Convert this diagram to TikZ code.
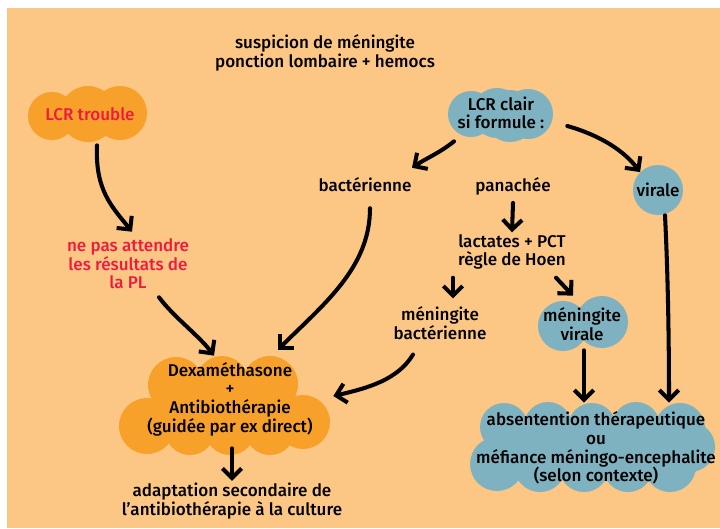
\documentclass[tikz,border=0pt]{standalone}
\usepackage{fontspec}
\setmainfont{Fira Sans}[UprightFont=* Medium]
\usetikzlibrary{arrows.meta, positioning}

\definecolor{peach}{HTML}{FCC684}
\definecolor{tangerine}{HTML}{F8A12A}
\definecolor{lcrblue}{HTML}{7FB2C0}
\definecolor{alertred}{HTML}{F01A40}

\begin{document}
\begin{tikzpicture}[
    x=0.02cm, y=-0.02cm,
    >={Straight Barb[length=5.5pt, width=11pt]},
    every node/.style={font=\fontsize{9.7}{10.6}\selectfont, align=center},
    txt/.style={inner sep=1pt},
    blob/.style={inner sep=0pt},
    arr/.style={->, line width=2.3pt, line cap=round}
]

% background
\fill[white] (0,0) rectangle (720,528);
\fill[peach] (7,8) rectangle (720,528);
\useasboundingbox (0,0) rectangle (720,528);

% clouds (overlapping puffs)
\foreach \cx/\cy/\r in {52/116/24, 88/114/28, 120/113/27}
    \fill[tangerine] (\cx,\cy) circle[radius=\r];
\foreach \cx/\cy/\r in {471/114/23, 497/113/25, 510/116/26, 528/114/25}
    \fill[lcrblue] (\cx,\cy) circle[radius=\r];
\fill[lcrblue] (658,190) circle[radius=25];
\foreach \cx/\cy/\r in {563/326/25, 602/322/26}
    \fill[lcrblue] (\cx,\cy) circle[radius=\r];
\fill[tangerine] (160,380) rectangle (295,435);
\foreach \cx/\cy/\r in {176/385/28, 222/382/26, 270/384/28, 147/426/28, 190/430/25,
                        230/430/25, 270/430/25, 303/422/27}
    \fill[tangerine] (\cx,\cy) circle[radius=\r];
\fill[lcrblue] (500,430) rectangle (690,470);
\foreach \cx/\cy/\r in {504/427/24, 548/426/24, 592/427/24, 636/426/24, 680/428/25,
                        690/447/25, 497/464/27, 540/466/26, 584/467/25, 628/467/25, 670/466/26}
    \fill[lcrblue] (\cx,\cy) circle[radius=\r];

% nodes
\node[txt] (suspicion) at (325,53) {suspicion de méningite\\ponction lombaire + hemocs};

\node[blob, text=alertred, minimum width=2.36cm, minimum height=1.08cm] (trouble) at (90,114) {LCR trouble};
\node[blob, minimum width=2.12cm, minimum height=1.04cm] (clair) at (501,113) {LCR clair\\si formule :};

\node[txt] (bacterienne) at (365,185) {bactérienne};
\node[txt] (panachee) at (513,186) {panachée};
\node[circle, minimum size=1cm, inner sep=0pt] (virale) at (658,190) {virale};

\node[txt] (lactates) at (512,252) {lactates + PCT\\règle de Hoen};
\node[txt, text=alertred] (attendre) at (128,264) {ne pas attendre\\les résultats de\\la PL};

\node[txt] (menbact) at (440,323) {méningite\\bactérienne};
\node[blob, minimum width=1.8cm, minimum height=1.04cm] (menvir) at (582,324) {méningite\\virale};

\node[blob, minimum width=4.2cm, minimum height=1.96cm] (dexa) at (230,399) {Dexaméthasone\\+\\Antibiothérapie\\(guidée par ex direct)};
\node[blob, minimum width=4.9cm, minimum height=1.8cm] (abstention) at (596,448) {absentention thérapeutique\\ou\\méfiance méningo-encephalite\\(selon contexte)};

\node[txt] (adaptation) at (232,501) {adaptation secondaire de\\l'antibiothérapie à la culture};

% arrows
\draw[arr] ([shift={(7,4)}]trouble.south) .. controls +(-2,45) and +(-20,-25) .. ([shift={(4,-5)}]attendre.north);
\draw[arr] ([shift={(31,6)}]attendre.south) .. controls +(15,20) and +(-15,-20) .. ([shift={(-16,6)}]dexa.north);
\draw[arr] ([shift={(5,14)}]bacterienne.south) .. controls +(0,60) and +(45,-45) .. ([shift={(48,0)}]dexa.north);
\draw[arr] ([shift={(-27,13)}]menbact.south) .. controls +(-15,25) and +(35,-8) .. ([shift={(-2,-3)}]dexa.east);
\draw[arr] ([shift={(-47,2)}]clair.south) .. controls +(-15,12) and +(15,-10) .. ([shift={(47,-8)}]bacterienne.north);
\draw[arr] ([shift={(13,13)}]clair.east) .. controls +(35,10) and +(-15,-20) .. (virale.north west);
\draw[arr] ([shift={(0,6)}]panachee.south) -- (lactates.north);
\draw[arr] ([shift={(-59,6)}]lactates.south) -- ([shift={(13,-6)}]menbact.north);
\draw[arr] ([shift={(44,6)}]lactates.south) -- ([shift={(-9,-2)}]menvir.north);
\draw[arr] ([shift={(2,0)}]menvir.south) -- ([shift={(2,0)}]menvir.south |- abstention.north);
\draw[arr] ([shift={(7,0)}]virale.south) .. controls +(3,60) and +(0,-60) .. ([shift={(11,0)}]virale.south |- abstention.north);
\draw[arr] (dexa.south -| adaptation.north) -- (adaptation.north);

\end{tikzpicture}
\end{document}
